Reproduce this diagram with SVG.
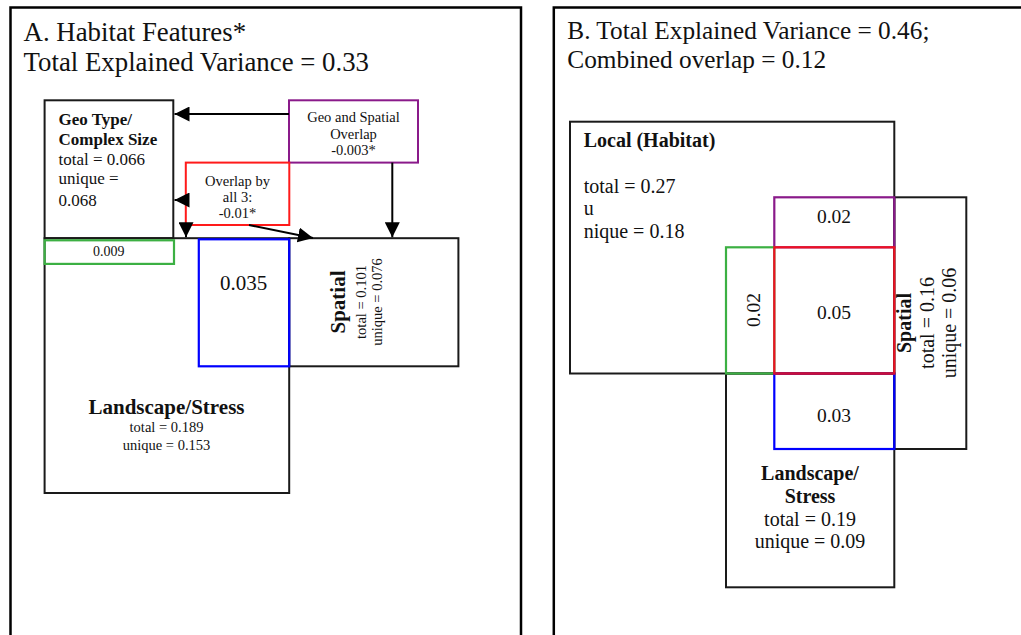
<svg xmlns="http://www.w3.org/2000/svg" width="1021" height="635" viewBox="0 0 1021 635" font-family="'Liberation Serif','Times New Roman',serif">
<style>
text{font-family:"Liberation Serif","Times New Roman",serif;fill:#111}
.frame{fill:none;stroke:#000;stroke-width:2.5}
.box{fill:none;stroke:#1a1a1a;stroke-width:2}
.green{fill:none;stroke:#3cb043;stroke-width:2.2}
.purple{fill:#fff;stroke:#8a1a8a;stroke-width:2}
.purpleb{fill:none;stroke:#8a1a8a;stroke-width:2.2}
.red{fill:#fff;stroke:#ff1a1a;stroke-width:2}
.redb{fill:none;stroke:#ee1122;stroke-width:2.2}
.blue{fill:none;stroke:#0000ff;stroke-width:2.2}
.arrow{stroke:#000;stroke-width:2;fill:none;marker-end:url(#ah)}
.title{font-size:26.8px}
.titleb{font-size:25.3px}
.b{font-weight:bold}
.m{text-anchor:middle}
</style>
<defs>
<marker id="ah" viewBox="0 0 10 10" refX="10" refY="5" markerWidth="7.5" markerHeight="7.5" markerUnits="strokeWidth" orient="auto">
<path d="M0,0 L10,5 L0,10 z" fill="#000"/>
</marker>
</defs>

<!-- Panel A -->
<g id="panelA">
<rect class="frame" x="10.5" y="7.5" width="510.5" height="650"/>
<text class="title" x="23.6" y="40.5">A. Habitat Features*</text>
<text class="title" x="23.6" y="71">Total Explained Variance = 0.33</text>
</g>

<g id="geo">
<rect class="box" x="44.6" y="100.3" width="128.7" height="137.9"/>
<text x="58.5" y="125" font-size="17" class="b">Geo Type/</text>
<text x="58.5" y="144.6" font-size="17" class="b">Complex Size</text>
<text x="58.5" y="164.5" font-size="17">total = 0.066</text>
<text x="58.5" y="184" font-size="17">unique =</text>
<text x="58.5" y="206" font-size="17">0.068</text>
</g>

<g id="landscapeA">
<rect class="box" x="44.6" y="238.2" width="244.6" height="254.8"/>
<text x="166.5" y="414" font-size="21" class="b m">Landscape/Stress</text>
<text x="166.5" y="432" font-size="14.5" class="m">total = 0.189</text>
<text x="166.5" y="449.7" font-size="14.5" class="m">unique = 0.153</text>
</g>

<g id="spatialA">
<rect class="box" x="289.2" y="238.2" width="169.2" height="128.1"/>
<text transform="translate(345,302) rotate(-90)" font-size="21" class="b m">Spatial</text>
<text transform="translate(366,302) rotate(-90)" font-size="14.5" class="m">total = 0.101</text>
<text transform="translate(381.5,302) rotate(-90)" font-size="14.5" class="m">unique = 0.076</text>
</g>

<g id="geoLandscapeA">
<rect class="green" x="44.6" y="240.3" width="129.4" height="23.6"/>
<text x="108.8" y="256" font-size="14" class="m">0.009</text>
</g>

<g id="landSpatialA">
<rect class="blue" x="198.8" y="239.3" width="90.4" height="127"/>
<text x="243.7" y="290.3" font-size="21" class="m">0.035</text>
</g>

<g id="geoSpatialOverlap">
<rect class="purple" x="289" y="100.3" width="129" height="62.3"/>
<text x="353.5" y="121.6" font-size="14.5" class="m">Geo and Spatial</text>
<text x="353.5" y="138.5" font-size="14.5" class="m">Overlap</text>
<text x="353.5" y="155.4" font-size="14.5" class="m">-0.003*</text>
</g>

<g id="overlapAll3">
<rect class="red" x="185.8" y="162.6" width="103.5" height="62.4"/>
<text x="237.5" y="185.8" font-size="14.5" class="m">Overlap by</text>
<text x="237.5" y="202" font-size="14.5" class="m">all 3:</text>
<text x="237.5" y="218" font-size="14.5" class="m">-0.01*</text>
</g>

<g id="connectors">
<line class="arrow" x1="289" y1="114" x2="174.5" y2="114"/>
<line class="arrow" x1="185.8" y1="200" x2="174.5" y2="200"/>
<line class="arrow" x1="186" y1="224" x2="186" y2="237.3"/>
<line class="arrow" x1="249" y1="225" x2="313" y2="238"/>
<line class="arrow" x1="392.3" y1="162.6" x2="392.3" y2="237.3"/>
</g>

<!-- Panel B -->
<g id="panelB">
<rect class="frame" x="553.8" y="7.5" width="500" height="650"/>
<text class="titleb" x="567.3" y="39">B. Total Explained Variance = 0.46;</text>
<text class="titleb" x="567.3" y="68.3">Combined overlap = 0.12</text>
</g>

<g id="localB">
<rect class="box" x="570" y="121.7" width="324.3" height="251.8"/>
<text x="583.7" y="146.7" font-size="20" class="b">Local (Habitat)</text>
<text x="583.7" y="192.7" font-size="20">total = 0.27</text>
<text x="583.7" y="215" font-size="20">u</text>
<text x="583.7" y="238.3" font-size="20">nique = 0.18</text>
</g>

<g id="spatialB">
<rect class="box" x="894.3" y="197.3" width="72" height="251.7"/>
<text transform="translate(911,323) rotate(-90)" font-size="20" class="b m">Spatial</text>
<text transform="translate(933.5,323) rotate(-90)" font-size="20" class="m">total = 0.16</text>
<text transform="translate(955.5,323) rotate(-90)" font-size="20" class="m">unique = 0.06</text>
</g>

<g id="landscapeB">
<rect class="box" x="726" y="373.5" width="168.3" height="213.8"/>
<text x="810" y="480" font-size="20" class="b m">Landscape/</text>
<text x="810" y="502.7" font-size="20" class="b m">Stress</text>
<text x="810" y="526" font-size="20" class="m">total = 0.19</text>
<text x="810" y="548.3" font-size="20" class="m">unique = 0.09</text>
</g>

<g id="localSpatialB">
<rect class="purpleb" x="774.3" y="197.3" width="120" height="50"/>
<text x="834" y="222.7" font-size="19.5" class="m">0.02</text>
</g>

<g id="localLandscapeB">
<rect class="green" x="726" y="247.3" width="48.3" height="126.2"/>
<text transform="translate(760,310) rotate(-90)" font-size="19.5" class="m">0.02</text>
</g>

<g id="landSpatialB">
<rect class="blue" x="774.3" y="373.5" width="120" height="75.5"/>
<text x="834" y="421.7" font-size="19.5" class="m">0.03</text>
</g>

<g id="allThreeB">
<rect class="redb" x="774.3" y="247.3" width="120" height="126.2"/>
<line x1="774.3" y1="373.5" x2="894.3" y2="373.5" stroke="#c8103c" stroke-width="2.2"/>
<text x="834" y="319" font-size="19.5" class="m">0.05</text>
</g>
</svg>
